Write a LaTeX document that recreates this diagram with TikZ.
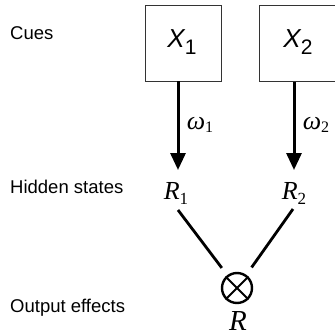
\documentclass[tikz,border=0pt]{standalone}
\usepackage{fontspec}
\setmainfont{Liberation Serif}
\newfontfamily\arialf{Liberation Sans}
\usetikzlibrary{arrows.meta}
\begin{document}
\begin{tikzpicture}[x=1pt,y=-1pt,
  lbl/.style={anchor=west,inner sep=0pt,font=\arialf\fontsize{18.5}{22}\selectfont},
  cuebox/.style={draw=black!80,line width=0.9pt,minimum width=76pt,minimum height=76pt,inner sep=0pt},
  warr/.style={line width=3pt,-{Triangle[width=15pt,length=17pt]}},
  link/.style={line width=2.8pt,shorten >=9pt},
  mathlbl/.style={inner sep=0pt}]
\useasboundingbox (0,0) rectangle (335,335);
\node[lbl] (cues) at (10,33) {Cues};
\node[lbl] (hidden) at (10,187) {Hidden states};
\node[lbl] (output) at (10,308) {Output effects};
\node[cuebox] (box1) at (183,43) {};
\node[cuebox] (box2) at (297.5,43.5) {};
\node[mathlbl] (x1) at (182,42) {\arialf{\fontsize{26}{30}\selectfont\itshape X}{\fontsize{21}{24}\selectfont\raisebox{-7pt}{1}}};
\node[mathlbl] (x2) at (298,42) {\arialf{\fontsize{26}{30}\selectfont\itshape X}{\fontsize{21}{24}\selectfont\raisebox{-7pt}{2}}};
\coordinate (a1) at (178,170);
\coordinate (a2) at (294,170);
\draw[warr] (box1.south -| a1) -- (a1);
\draw[warr] (box2.south -| a2) -- (a2);
\node[mathlbl] (w1) at (200,125) {{\fontsize{26}{30}\selectfont\itshape ω}{\fontsize{16}{18}\selectfont\raisebox{-3pt}{1}}};
\node[mathlbl] (w2) at (316,125) {{\fontsize{26}{30}\selectfont\itshape ω}{\fontsize{16}{18}\selectfont\raisebox{-3pt}{2}}};
\node[mathlbl] (r1) at (176,193) {{\fontsize{26}{30}\selectfont\itshape R}{\fontsize{17}{20}\selectfont\raisebox{-5pt}{1}}};
\node[mathlbl] (r2) at (294,193) {{\fontsize{26}{30}\selectfont\itshape R}{\fontsize{17}{20}\selectfont\raisebox{-5pt}{2}}};
\node[circle,draw,line width=2.4pt,minimum size=30pt,inner sep=0pt] (ot) at (237,288) {};
\draw[line width=1.8pt] (ot.north west) -- (ot.south east);
\draw[line width=1.8pt] (ot.north east) -- (ot.south west);
\coordinate (l1) at (178,210);
\coordinate (l2) at (293,209);
\draw[link] (l1) -- (ot);
\draw[link] (l2) -- (ot);
\node[mathlbl,anchor=base] (rr) at (238,330) {\fontsize{29}{34}\selectfont\itshape R};
\end{tikzpicture}
\end{document}
